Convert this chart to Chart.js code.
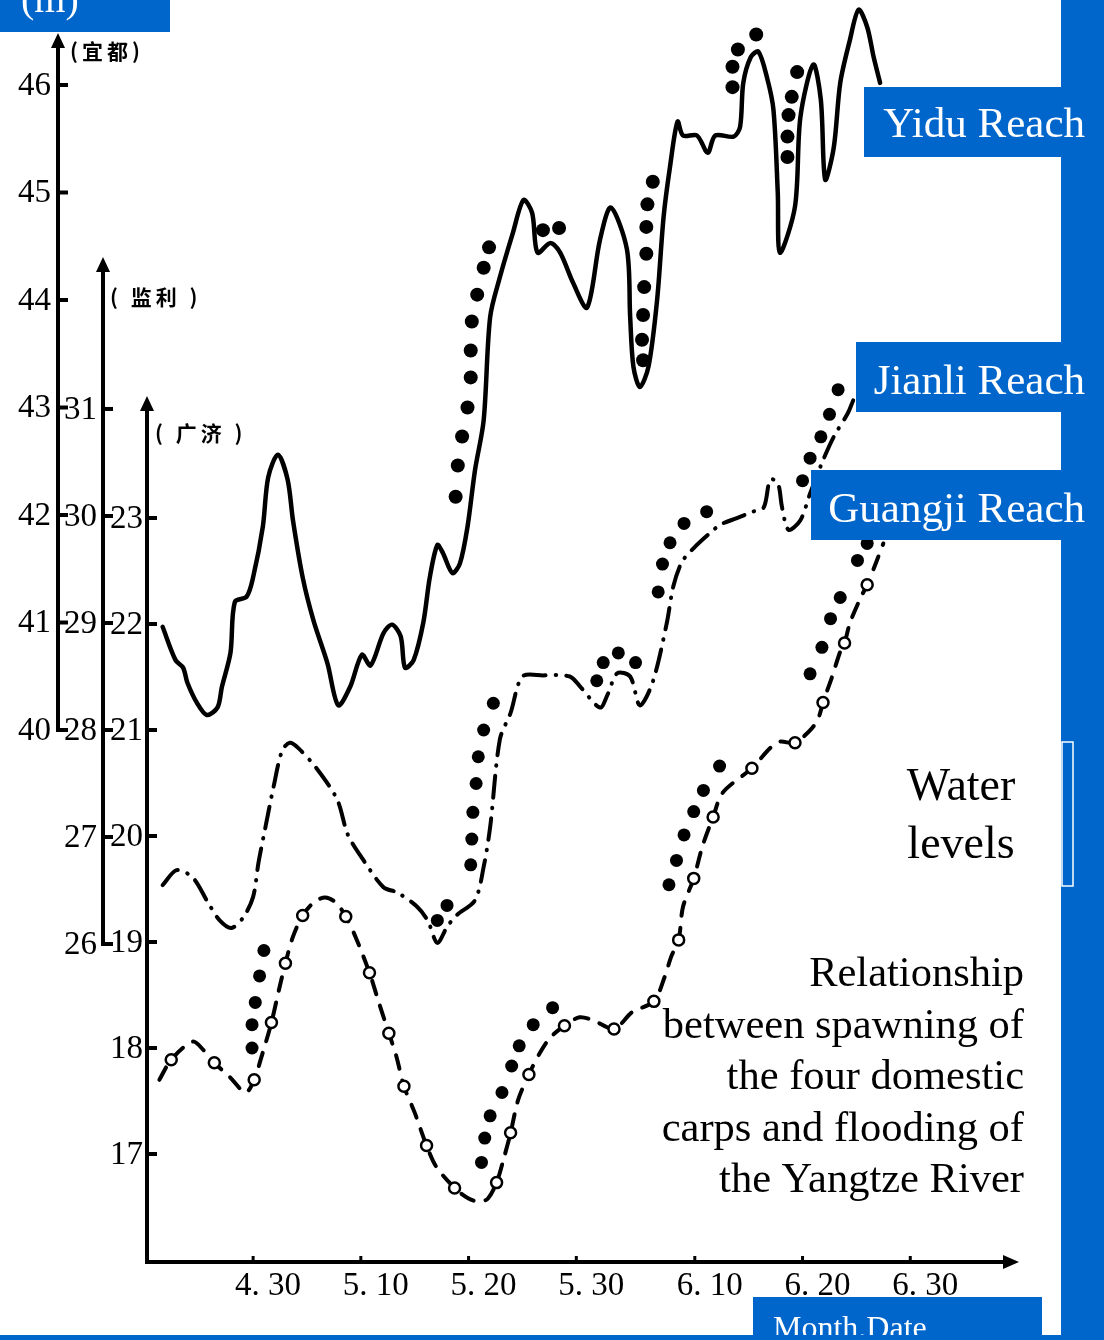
<!DOCTYPE html>
<html>
<head>
<meta charset="utf-8">
<title>Water levels and carp spawning</title>
<script src="https://cdn.jsdelivr.net/npm/chart.js@4.4.1/dist/chart.umd.min.js"></script>
<style>
  html, body { margin: 0; padding: 0; background: #fff; }
  canvas { display: block; }
</style>
</head>
<body>
<canvas id="chart" width="1104" height="1340"></canvas>
<script>
// day 0 = 30 April; values as [day, water level (m)]
const xTickDays = [0, 10, 20, 30, 41, 51, 61];
const xTickLabels = ['4. 30', '5. 10', '5. 20', '5. 30', '6. 10', '6. 20', '6. 30'];
const yiduTicks = [40, 41, 42, 43, 44, 45, 46];
const jianliTicks = [26, 27, 28, 29, 30, 31];
const guangjiTicks = [17, 18, 19, 20, 21, 22, 23];

const yiduLine = [
  [-8.4, 40.96], [-7.2, 40.65], [-6.5, 40.58], [-6.1, 40.44], [-5.2, 40.25], [-4.3, 40.14],
  [-3.3, 40.21], [-2.9, 40.40], [-2.1, 40.72], [-1.7, 41.19], [-0.6, 41.24], [0, 41.42],
  [0.9, 41.89], [1.4, 42.35], [2.3, 42.56], [3.2, 42.33], [3.7, 41.95], [4.6, 41.42],
  [5.6, 41.02], [6.9, 40.62], [7.9, 40.23], [9.0, 40.40], [10.1, 40.70], [10.9, 40.60],
  [12.1, 40.90], [12.9, 40.98], [13.7, 40.87], [14.1, 40.58], [14.9, 40.65], [15.8, 41.00],
  [16.4, 41.42], [17.1, 41.72], [17.6, 41.65], [18.5, 41.46], [19.2, 41.55], [19.9, 41.89],
  [20.6, 42.42], [21.4, 42.88], [22.0, 43.84], [22.9, 44.21], [24.1, 44.62], [25.1, 44.93],
  [25.9, 44.81], [26.4, 44.44], [27.6, 44.53], [28.5, 44.44], [29.7, 44.16], [31.0, 43.93],
  [32.2, 44.56], [33.2, 44.86], [34.7, 44.47], [35.0, 43.84], [35.3, 43.38], [35.9, 43.19],
  [36.7, 43.38], [37.5, 44.00], [38.1, 44.77], [38.7, 45.24], [39.4, 45.66], [39.9, 45.53],
  [41.2, 45.53], [42.2, 45.37], [42.9, 45.53], [44.6, 45.52], [45.2, 45.61], [45.5, 46.02],
  [46.2, 46.26], [46.9, 46.31], [47.7, 46.07], [48.3, 45.77], [48.7, 45.00], [48.9, 44.44],
  [50.3, 44.87], [50.8, 45.70], [52.0, 46.19], [52.7, 45.86], [53.1, 45.12], [53.9, 45.42],
  [54.5, 46.02], [55.4, 46.42], [56.2, 46.70], [57.0, 46.54], [57.6, 46.26], [58.2, 46.02]
];
const yiduSpawn = [
  [18.8, 42.17], [19.0, 42.46], [19.4, 42.73], [19.9, 43.00], [20.2, 43.28], [20.2, 43.53],
  [20.3, 43.80], [20.8, 44.05], [21.4, 44.30], [21.9, 44.49], [26.9, 44.65], [28.4, 44.67],
  [37.1, 45.10], [36.6, 44.89], [36.5, 44.68], [36.5, 44.43], [36.3, 44.12], [36.2, 43.86],
  [36.1, 43.63], [36.2, 43.44], [44.5, 45.98], [44.5, 46.17], [45.0, 46.33], [46.7, 46.47],
  [50.5, 46.12], [50.0, 45.89], [49.7, 45.72], [49.6, 45.52], [49.6, 45.33]
];

const jianliLine = [
  [-8.4, 26.55], [-7.1, 26.69], [-5.6, 26.62], [-4.2, 26.39], [-3.1, 26.22], [-2.0, 26.15],
  [-0.9, 26.25], [0, 26.44], [0.5, 26.76], [1.1, 27.07], [1.9, 27.47], [2.7, 27.81],
  [3.4, 27.88], [4.2, 27.83], [5.9, 27.64], [7.8, 27.35], [8.8, 27.02], [10.2, 26.79],
  [12.1, 26.53], [13.4, 26.48], [15.2, 26.35], [16.2, 26.22], [17.1, 26.01], [18.0, 26.16],
  [18.9, 26.27], [20.6, 26.41], [21.4, 26.72], [22.0, 27.09], [22.9, 27.91], [23.9, 28.16],
  [25.0, 28.50], [26.9, 28.51], [29.4, 28.50], [30.4, 28.40], [32.2, 28.21], [32.9, 28.33],
  [33.8, 28.53], [35.0, 28.50], [35.9, 28.23], [37.1, 28.45], [38.4, 29.00], [39.0, 29.34],
  [39.8, 29.57], [40.9, 29.70], [42.4, 29.84], [43.4, 29.92], [44.9, 29.98], [46.4, 30.04],
  [47.4, 30.08], [48.0, 30.34], [48.7, 30.31], [49.1, 30.08], [49.7, 29.87], [50.8, 29.96],
  [51.7, 30.21], [52.9, 30.52], [53.9, 30.74], [55.2, 30.96], [55.7, 31.08]
];
const jianliSpawn = [
  [17.1, 26.22], [18.0, 26.36], [20.2, 26.74], [20.3, 26.98], [20.4, 27.23], [20.7, 27.50],
  [20.9, 27.75], [21.4, 28.00], [22.3, 28.25], [31.9, 28.46], [32.5, 28.63], [33.9, 28.72],
  [35.5, 28.63], [37.6, 29.29], [38.0, 29.55], [38.7, 29.75], [40.0, 29.93], [42.1, 30.04],
  [51.0, 30.33], [51.7, 30.54], [52.7, 30.74], [53.5, 30.95], [54.3, 31.18]
];

const guangjiLine = [
  [-8.7, 17.70], [-7.6, 17.89], [-5.6, 18.06], [-4.6, 17.98], [-3.6, 17.86], [-2.2, 17.73],
  [-0.7, 17.58], [0.1, 17.70], [0.7, 17.89], [1.7, 18.24], [2.4, 18.55], [3.0, 18.80],
  [3.7, 19.05], [4.6, 19.25], [5.7, 19.38], [6.7, 19.42], [7.7, 19.37], [8.6, 19.24],
  [9.5, 19.05], [10.8, 18.71], [11.7, 18.42], [12.6, 18.14], [13.3, 17.92], [14.0, 17.64],
  [15.0, 17.39], [16.1, 17.08], [17.0, 16.88], [18.7, 16.68], [20.0, 16.58], [21.0, 16.55],
  [21.8, 16.58], [22.6, 16.73], [23.3, 16.97], [23.9, 17.20], [24.6, 17.51], [25.6, 17.75],
  [26.6, 17.95], [27.6, 18.10], [28.9, 18.21], [30.3, 18.29], [31.6, 18.26], [33.5, 18.18],
  [35.2, 18.34], [37.2, 18.44], [38.2, 18.67], [38.8, 18.86], [39.5, 19.02], [39.9, 19.33],
  [40.9, 19.60], [41.7, 19.90], [42.7, 20.18], [43.6, 20.41], [46.3, 20.64], [48.0, 20.83],
  [48.9, 20.89], [50.3, 20.88], [51.9, 21.02], [52.5, 21.12], [52.9, 21.26], [53.7, 21.49],
  [54.5, 21.74], [54.9, 21.82], [55.4, 22.01], [56.4, 22.25], [57.0, 22.37], [57.9, 22.60],
  [58.5, 22.76]
];
const guangjiCircles = [
  [-7.6, 17.89], [-3.6, 17.86], [0.1, 17.70], [1.7, 18.24], [3.0, 18.80], [4.6, 19.25],
  [8.6, 19.24], [10.8, 18.71], [12.6, 18.14], [14.0, 17.64], [16.1, 17.08], [18.7, 16.68],
  [22.6, 16.73], [23.9, 17.20], [25.6, 17.75], [28.9, 18.21], [33.5, 18.18], [37.2, 18.44],
  [39.5, 19.02], [40.9, 19.60], [42.7, 20.18], [46.3, 20.64], [50.3, 20.88], [52.9, 21.26],
  [54.9, 21.82], [57.0, 22.37]
];
const guangjiSpawn = [
  [1.0, 18.92], [0.6, 18.68], [0.2, 18.43], [-0.1, 18.22], [-0.1, 18.00],
  [21.2, 16.92], [21.5, 17.15], [22.0, 17.36], [23.1, 17.58], [24.0, 17.83], [24.7, 18.02],
  [26.0, 18.22], [27.8, 18.38], [38.6, 19.54], [39.3, 19.77], [40.0, 20.01], [40.9, 20.23],
  [41.8, 20.43], [43.3, 20.66], [51.7, 21.53], [52.8, 21.78], [53.6, 22.05], [54.5, 22.25],
  [56.1, 22.60], [57.0, 22.76]
];

const BLUE = '#0066cc';
const SERIF = '"Liberation Serif", "Times New Roman", serif';
const toPoints = arr => arr.map(p => ({ x: p[0], y: p[1] }));

// hand-drawn style axes: three stacked level axes plus the date axis
const oldAxes = {
  id: 'oldAxes',
  afterDatasetsDraw(chart) {
    const ctx = chart.ctx;
    const area = chart.chartArea;
    const sx = chart.scales.x;
    ctx.save();
    ctx.strokeStyle = '#000';
    ctx.fillStyle = '#000';
    ctx.lineWidth = 4;

    const arrowUp = (x, tip) => {
      ctx.beginPath();
      ctx.moveTo(x, tip);
      ctx.lineTo(x - 7, tip + 15);
      ctx.lineTo(x + 7, tip + 15);
      ctx.closePath();
      ctx.fill();
    };

    const vAxis = (scale, axisX, tipY, ticks, labelRight, cornerValue) => {
      const bottom = cornerValue == null ? area.bottom : scale.getPixelForValue(cornerValue);
      ctx.lineWidth = 4;
      ctx.beginPath();
      ctx.moveTo(axisX, tipY + 10);
      ctx.lineTo(axisX, bottom);
      ctx.stroke();
      arrowUp(axisX, tipY);
      ctx.font = '33px ' + SERIF;
      ctx.textAlign = 'right';
      ctx.textBaseline = 'middle';
      ticks.forEach(v => {
        const py = scale.getPixelForValue(v);
        ctx.beginPath();
        ctx.moveTo(axisX - 2, py);
        ctx.lineTo(axisX + 10, py);
        ctx.stroke();
        ctx.fillText(String(v), labelRight, py + 1);
      });
    };

    vAxis(chart.scales.yYidu, 58, 33, yiduTicks, 51, 40);
    vAxis(chart.scales.yJianli, 103, 257, jianliTicks, 97, 26);
    vAxis(chart.scales.yGuangji, area.left, 396, guangjiTicks, 143, null);

    // date axis
    ctx.lineWidth = 4;
    ctx.beginPath();
    ctx.moveTo(area.left - 2, area.bottom);
    ctx.lineTo(area.right - 12, area.bottom);
    ctx.stroke();
    ctx.beginPath();
    ctx.moveTo(area.right + 1, area.bottom);
    ctx.lineTo(area.right - 15, area.bottom - 7);
    ctx.lineTo(area.right - 15, area.bottom + 7);
    ctx.closePath();
    ctx.fill();

    ctx.lineWidth = 3;
    ctx.font = '33px ' + SERIF;
    ctx.textAlign = 'center';
    ctx.textBaseline = 'middle';
    xTickDays.forEach((d, i) => {
      const px = sx.getPixelForValue(d);
      ctx.beginPath();
      ctx.moveTo(px, area.bottom);
      ctx.lineTo(px, area.bottom - 6);
      ctx.stroke();
      ctx.fillText(xTickLabels[i], px + 15, area.bottom + 24);
    });

    // station names
    ctx.font = 'bold 21px "Noto Sans CJK SC"';
    ctx.textAlign = 'left';
    ctx.letterSpacing = '4px';
    ctx.fillText('(宜都)', 70, 51);
    ctx.fillText('( 监利 )', 110, 297);
    ctx.fillText('( 广济 )', 155, 433);
    ctx.letterSpacing = '0px';
    ctx.restore();
  },
  afterDraw(chart) {
    const ctx = chart.ctx;
    ctx.save();
    ctx.fillStyle = BLUE;
    ctx.fillRect(0, 0, 170, 32);
    ctx.fillRect(864, 87, 230, 70);
    ctx.fillRect(856, 342, 240, 70);
    ctx.fillRect(811, 470, 285, 70);
    ctx.fillRect(753, 1297, 289, 40);
    ctx.fillRect(1061, 0, 43, 1340);

    ctx.fillStyle = '#fff';
    ctx.textBaseline = 'alphabetic';
    ctx.textAlign = 'left';
    ctx.font = '40px ' + SERIF;
    ctx.fillText('(m)', 21, 12);
    ctx.font = '32px ' + SERIF;
    ctx.fillText('Month.Date', 773, 1338);

    ctx.textAlign = 'right';
    ctx.font = '43px ' + SERIF;
    ctx.fillText('Yidu Reach', 1085, 137);
    ctx.fillText('Jianli Reach', 1085, 394);
    ctx.fillText('Guangji Reach', 1085, 522);

    ctx.fillStyle = BLUE;
    ctx.fillRect(0, 1335, 1061, 5);

    ctx.strokeStyle = '#fff';
    ctx.lineWidth = 1.5;
    ctx.strokeRect(1062, 742, 11, 144);

    ctx.fillStyle = '#000';
    ctx.textAlign = 'center';
    ctx.font = '46px ' + SERIF;
    ctx.fillText('Water', 961, 800);
    ctx.fillText('levels', 961, 858);

    ctx.textAlign = 'right';
    ctx.font = '42.5px ' + SERIF;
    const caption = ['Relationship', 'between spawning of', 'the four domestic',
      'carps and flooding of', 'the Yangtze River'];
    caption.forEach((line, i) => ctx.fillText(line, 1024, 986 + i * 51.5));
    ctx.restore();
  }
};

new Chart(document.getElementById('chart'), {
  type: 'line',
  data: {
    datasets: [
      {
        label: 'Guangji', type: 'scatter', data: toPoints(guangjiCircles), yAxisID: 'yGuangji',
        pointRadius: 5.5, pointBackgroundColor: '#fff', pointBorderColor: '#000', pointBorderWidth: 2.5,
        order: 0
      },
      {
        label: 'Yidu spawning', type: 'scatter', data: toPoints(yiduSpawn), yAxisID: 'yYidu',
        pointRadius: 7, pointBackgroundColor: '#000', pointBorderWidth: 0, order: 1
      },
      {
        label: 'Jianli spawning', type: 'scatter', data: toPoints(jianliSpawn), yAxisID: 'yJianli',
        pointRadius: 6.5, pointBackgroundColor: '#000', pointBorderWidth: 0, order: 1
      },
      {
        label: 'Guangji spawning', type: 'scatter', data: toPoints(guangjiSpawn), yAxisID: 'yGuangji',
        pointRadius: 6.5, pointBackgroundColor: '#000', pointBorderWidth: 0, order: 1
      },
      {
        label: 'Yidu', data: toPoints(yiduLine), yAxisID: 'yYidu',
        borderColor: '#000', borderWidth: 4.5, pointRadius: 0, tension: 0.3,
        borderCapStyle: 'round', borderJoinStyle: 'round', order: 2
      },
      {
        label: 'Jianli', data: toPoints(jianliLine), yAxisID: 'yJianli',
        borderColor: '#000', borderWidth: 4, pointRadius: 0, tension: 0.3,
        borderDash: [22, 10, 0.5, 10], borderCapStyle: 'round', order: 2
      },
      {
        label: 'Guangji level', data: toPoints(guangjiLine), yAxisID: 'yGuangji',
        borderColor: '#000', borderWidth: 4, pointRadius: 0, tension: 0.3,
        borderDash: [14, 12], borderCapStyle: 'round', order: 2
      }
    ]
  },
  options: {
    responsive: false,
    animation: false,
    events: [],
    layout: { autoPadding: false, padding: { left: 147, right: 86, top: 0, bottom: 78 } },
    plugins: { legend: { display: false }, tooltip: { enabled: false } },
    scales: {
      x: { type: 'linear', display: false, min: -9.85, max: 71 },
      yYidu: { type: 'linear', display: false, min: 35.0512, max: 46.7907 },
      yJianli: { type: 'linear', display: false, min: 23.028, max: 34.822 },
      yGuangji: { type: 'linear', display: false, min: 15.981, max: 27.887 }
    }
  },
  plugins: [oldAxes]
});
</script>
</body>
</html>
